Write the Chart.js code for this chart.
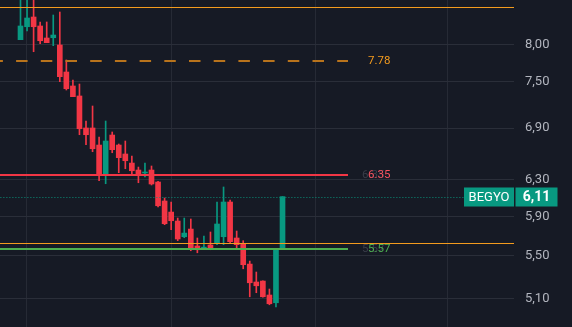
<!DOCTYPE html>
<html><head><meta charset="utf-8">
<script src="https://cdn.jsdelivr.net/npm/chart.js@4.4.0/dist/chart.umd.min.js"></script>
<style>
html,body{margin:0;padding:0;background:#161a25;overflow:hidden;width:572px;height:327px;}
canvas{display:block}
</style></head><body>
<canvas id="c" width="572" height="345"></canvas>
<script>
// OHLC series (candle index = position)
const openP  = [8.076,8.264,8.408,8.275,8.100,8.104,8.000,7.625,7.438,7.307,6.903,6.903,6.697,6.364,6.817,6.697,6.591,6.486,6.406,6.372,6.406,6.271,6.063,5.945,5.851,5.690,5.768,5.597,5.576,5.607,5.620,5.690,6.052,5.677,5.620,5.420,5.250,5.259,5.130,5.060,5.570];
const highP  = [8.820,8.820,8.820,8.334,8.334,8.438,8.483,7.790,7.518,7.464,6.989,7.178,6.793,6.989,6.854,6.709,6.745,6.568,6.440,6.486,6.452,6.280,6.095,6.052,5.882,5.882,5.872,5.677,5.697,5.738,6.052,6.216,6.074,5.748,5.650,5.449,5.344,5.262,5.185,5.560,6.110];
const lowP   = [8.076,8.202,7.905,8.018,8.033,7.990,7.495,7.385,7.298,6.821,6.701,6.618,6.285,6.252,6.606,6.376,6.421,6.342,6.263,6.327,6.238,6.000,5.813,5.761,5.650,5.680,5.550,5.530,5.572,5.560,5.610,5.610,5.630,5.564,5.375,5.114,5.151,5.110,5.042,5.022,5.570];
const closeP = [8.275,8.393,8.264,8.061,8.033,8.143,7.562,7.402,7.298,6.894,6.821,6.653,6.364,6.745,6.642,6.548,6.513,6.398,6.342,6.383,6.249,6.012,5.823,5.854,5.667,5.727,5.580,5.560,5.584,5.570,5.820,6.052,5.640,5.610,5.414,5.243,5.215,5.114,5.051,5.560,6.110];

// price axis tick labels
const yTicks = [8.00, 7.50, 6.90, 6.30, 5.90, 5.50, 5.10, 4.80];
// vertical grid positions (candle index units)
const xGridTicks = [0.84, 22.98, 45.0, 65.16];

// drawings / levels
const symbol = 'BEGYO';
const lastPrice = 6.11;
const alertLevels = [8.559, 5.624];
const targetLevel = 7.78;
const resistanceLevel = 6.35;
const supportLevel = 5.57;
const drawingEndIndex = 50;

const UP = '#089981', DOWN = '#f23645';
const colors = openP.map((o, i) => closeP[i] >= o ? UP : DOWN);
const wickData = openP.map((o, i) => ({x: i, y: [lowP[i], highP[i]]}));
const bodyData = openP.map((o, i) => ({x: i, y: [o, closeP[i]]}));

const fmt = v => v.toFixed(2).replace('.', ',');

const overlay = {
  id: 'overlay',
  beforeDraw(chart) {
    const ctx = chart.ctx;
    ctx.save();
    ctx.fillStyle = '#161a25';
    ctx.fillRect(0, 0, chart.width, chart.height);
    ctx.restore();
  },
  afterDatasetsDraw(chart) {
    const {ctx, chartArea: a, scales: {x, y}} = chart;
    const xe = Math.round(x.getPixelForValue(drawingEndIndex));
    const hline = (v, x0, x1, w) => {
      let py = y.getPixelForValue(v);
      py = w % 2 ? Math.round(py) + 0.5 : Math.round(py);
      ctx.beginPath(); ctx.moveTo(x0, py); ctx.lineTo(x1, py); ctx.stroke();
    };
    ctx.save();
    ctx.strokeStyle = '#f39b1e'; ctx.lineWidth = 1;
    alertLevels.forEach(v => hline(v, a.left, a.right, 1));
    ctx.setLineDash([11.5, 13.2]); ctx.lineDashOffset = 8.6;
    ctx.strokeStyle = '#b8731c'; ctx.lineWidth = 2;
    hline(targetLevel, a.left, xe, 2);
    ctx.setLineDash([]);
    ctx.strokeStyle = '#f23645'; hline(resistanceLevel, a.left, xe, 2);
    ctx.strokeStyle = '#4caf50'; hline(supportLevel, a.left, xe, 2);
    ctx.setLineDash([1, 2]); ctx.strokeStyle = '#0a8f79'; ctx.lineWidth = 1;
    hline(lastPrice, a.left, a.right - 50, 1);
    ctx.restore();
  },
  afterDraw(chart) {
    const {ctx, chartArea: a, scales: {x, y}} = chart;
    const xe = Math.round(x.getPixelForValue(drawingEndIndex));
    ctx.save();
    ctx.font = '11.5px Roboto, "DejaVu Sans", sans-serif';
    ctx.textBaseline = 'middle'; ctx.textAlign = 'left';
    ctx.fillStyle = '#f39b1e';
    ctx.fillText(targetLevel.toFixed(2), xe + 20, y.getPixelForValue(targetLevel));
    ctx.fillStyle = '#3a3e4a';
    ctx.fillText(resistanceLevel.toFixed(2), xe + 14, y.getPixelForValue(resistanceLevel));
    ctx.fillText(supportLevel.toFixed(2), xe + 14, y.getPixelForValue(supportLevel));
    ctx.fillStyle = '#f7525f';
    ctx.fillText(resistanceLevel.toFixed(2), xe + 20, y.getPixelForValue(resistanceLevel));
    ctx.fillStyle = '#4caf50';
    ctx.fillText(supportLevel.toFixed(2), xe + 20, y.getPixelForValue(supportLevel));
    const py = y.getPixelForValue(lastPrice);
    const top = Math.round(py) - 9.5, h = 19;
    ctx.fillStyle = UP;
    ctx.fillRect(a.right - 50, top, 50, h);
    ctx.fillRect(a.right + 1.5, top, 42, h);
    ctx.fillStyle = '#ffffff';
    ctx.textAlign = 'center';
    ctx.font = '13px Roboto, "DejaVu Sans", sans-serif';
    ctx.fillText(symbol, a.right - 25, top + h / 2 + 0.5);
    ctx.font = 'bold 14px Roboto, "DejaVu Sans", sans-serif';
    ctx.fillText(fmt(lastPrice), a.right + 22.5, top + h / 2 + 0.5);
    ctx.restore();
  }
};

new Chart(document.getElementById('c'), {
  type: 'bar',
  data: {
    datasets: [
      {data: bodyData, backgroundColor: colors, barThickness: 5, minBarLength: 1, borderWidth: 0, grouped: false},
      {data: wickData, backgroundColor: colors, barThickness: 1, borderWidth: 0, grouped: false}
    ]
  },
  options: {
    responsive: false,
    animation: false,
    devicePixelRatio: 1,
    layout: {padding: 0, autoPadding: false},
    plugins: {legend: {display: false}, tooltip: {enabled: false}},
    scales: {
      x: {
        type: 'linear', min: -3.13, max: 75.34, offset: false,
        grid: {color: '#262a35', offset: false, drawTicks: false},
        border: {display: false},
        ticks: {display: false},
        afterBuildTicks: s => { s.ticks = xGridTicks.map(v => ({value: v})); },
        afterFit: s => { s.height = 0; s.paddingLeft = 0; s.paddingRight = 0; }
      },
      y: {
        type: 'logarithmic', position: 'right',
        min: 4.694, max: 8.666,
        grid: {color: '#2a2e39', drawTicks: false},
        border: {display: false},
        ticks: {
          color: '#b2b5be', padding: 11, autoSkip: false,
          font: {size: 13, family: 'Roboto, "DejaVu Sans", sans-serif'},
          callback: v => fmt(v)
        },
        afterBuildTicks: s => { s.ticks = yTicks.map(v => ({value: v})); },
        afterFit: s => { s.width = 58; s.paddingTop = 0; s.paddingBottom = 0; }
      }
    }
  },
  plugins: [overlay]
});
</script>
</body></html>
